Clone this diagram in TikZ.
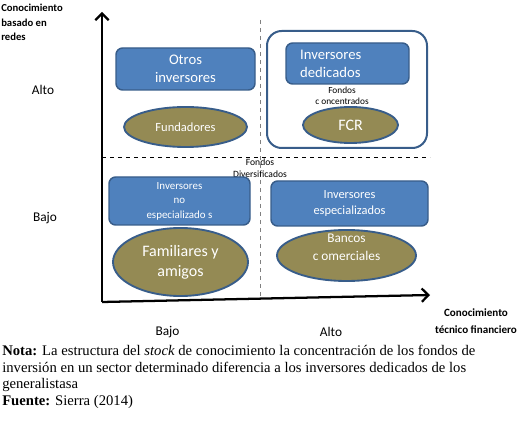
\documentclass[tikz,border=0pt]{standalone}
\usepackage{fontspec}
\setmainfont{Carlito}
\newfontfamily\capfont{Liberation Serif}
\usetikzlibrary{arrows.meta,shapes.geometric}
\definecolor{boxblue}{HTML}{4F81BD}
\definecolor{edgeblue}{HTML}{385D8A}
\definecolor{olivefill}{HTML}{948A54}
\begin{document}
\begin{tikzpicture}[x=0.75pt,y=-0.75pt,
  bluebox/.style={draw=edgeblue, line width=1.1pt, fill=boxblue, rounded corners=5pt, text=white, align=center, inner sep=0pt},
  olivell/.style={ellipse, draw=edgeblue, line width=1.4pt, fill=olivefill, text=white, align=center, inner sep=0pt},
  axisline/.style={line width=1.7pt, -{Straight Barb[length=5pt,width=10pt,line width=1.7pt]}},
  lbl/.style={align=center, inner sep=0pt},
]
\useasboundingbox (0,0) rectangle (520,427);

% axes
\coordinate (O) at (102,302);
\coordinate (ytip) at (102,12);
\coordinate (xtip) at (430,295);
\coordinate (vtop) at (260,20);
\coordinate (vbot) at (260,297);
\coordinate (hl) at (102,157);
\coordinate (hr) at (430,157);
\draw[dashed, gray, line width=0.6pt] (vtop) -- (vbot);
\draw[dashed, line width=0.6pt] (hl) -- (hr);
\draw[axisline] (O) -- (ytip);
\draw[axisline] (O) -- (xtip);

% top-left quadrant
\node[bluebox, minimum width=104.25pt, minimum height=31.5pt, font=\fontsize{11}{13.5}\selectfont] (otros) at (185.5,69) {Otros\\inversores};
\node[olivell, minimum width=92.25pt, minimum height=30pt, font=\fontsize{9.4}{11}\selectfont] (fund) at (185.5,127) {Fundadores};

% top-right quadrant
\node[draw=edgeblue, line width=1.5pt, rounded corners=11pt, minimum width=120pt, minimum height=87.75pt, inner sep=0pt] (outer) at (347,89.5) {};
\node[bluebox, minimum width=92.25pt, minimum height=30.75pt, text width=71pt, align=left, font=\fontsize{11}{13.5}\selectfont] (dedic) at (347.5,63.5) {Inversores\\dedicados};
\node[lbl, font=\fontsize{7}{8.25}\selectfont] (fconc) at (342,95.5) {Fondos\\c oncentrados};
\node[olivell, minimum width=71.25pt, minimum height=27pt, font=\fontsize{12}{14}\selectfont] (fcr) at (350.5,125) {FCR};

% middle label
\node[lbl, font=\fontsize{7.2}{8.8}\selectfont] (fdiv) at (260,168) {Fondos\\Diversificados};

% bottom-left quadrant
\node[bluebox, minimum width=105.75pt, minimum height=36pt, font=\fontsize{8.2}{10.9}\selectfont] (noesp) at (179.5,201) {Inversores\\no\\especializado s};
\node[olivell, minimum width=101.25pt, minimum height=51pt, font=\fontsize{12}{15}\selectfont] (fam) at (180.5,262) {Familiares y\\amigos};

% bottom-right quadrant
\node[bluebox, minimum width=117.75pt, minimum height=33.75pt, font=\fontsize{9.3}{12}\selectfont] (esp) at (349.5,203.5) {Inversores\\especializados};
\node[olivell, minimum width=104.25pt, minimum height=38.25pt] (bancos) at (346.5,255.5) {};
\node[lbl, text=white, font=\fontsize{10}{13.5}\selectfont] (bancostxt) at (346.5,247) {Bancos\\c omerciales};

% axis labels
\node[anchor=north west, align=left, inner sep=0pt, font=\bfseries\fontsize{8}{10.9}\selectfont] (ylab) at (1,4) {Conocimiento\\basado en\\redes};
\node[lbl, font=\fontsize{10}{12}\selectfont] (yalto) at (43,90) {Alto};
\node[lbl, font=\fontsize{10}{12}\selectfont] (ybajo) at (45,218) {Bajo};
\node[lbl, font=\fontsize{10}{12}\selectfont] (xbajo) at (167.5,332) {Bajo};
\node[lbl, font=\fontsize{10}{12}\selectfont] (xalto) at (331,332) {Alto};
\node[lbl, font=\bfseries\fontsize{8.3}{12.75}\selectfont] (xlab) at (476,321.5) {Conocimiento\\técnico financiero};

% caption
\node[anchor=north west, align=left, inner sep=0pt, font=\capfont\fontsize{11}{12.4}\selectfont] (cap) at (2,345)
{\textbf{Nota:} La estructura del \textit{stock} de conocimiento la concentración de los fondos de\\
inversión en un sector determinado diferencia a los inversores dedicados de los\\
generalistasa\\
\textbf{Fuente:} Sierra (2014)};
\end{tikzpicture}
\end{document}
